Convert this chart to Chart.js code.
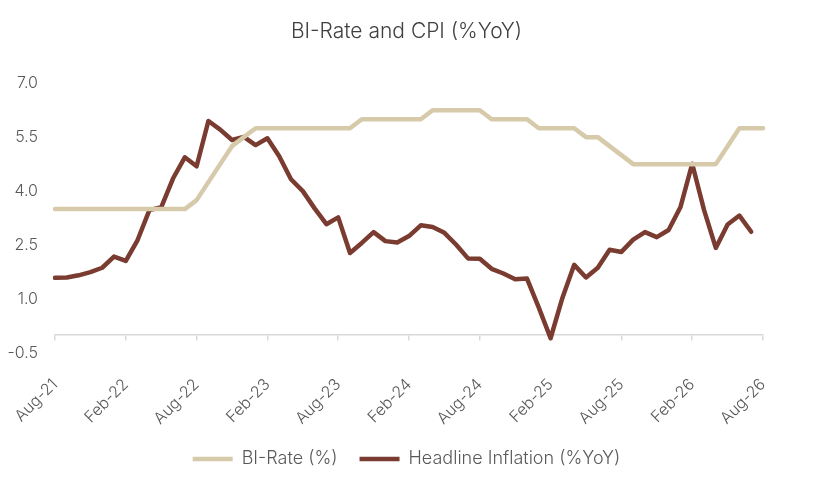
<!DOCTYPE html>
<html>
<head>
<meta charset="utf-8">
<script src="https://cdn.jsdelivr.net/npm/chart.js@4"></script>
<style>
    html, body { margin: 0; padding: 0; background: #ffffff; }
    #wrap { width: 813px; height: 487px; }
</style>
</head>
<body>
<div id="wrap"><canvas id="chart"></canvas></div>
<script>
// Monthly categories
const months = [
    'Aug-21', 'Sep-21', 'Oct-21', 'Nov-21', 'Dec-21',
    'Jan-22', 'Feb-22', 'Mar-22', 'Apr-22', 'May-22', 'Jun-22', 'Jul-22', 'Aug-22', 'Sep-22', 'Oct-22', 'Nov-22', 'Dec-22',
    'Jan-23', 'Feb-23', 'Mar-23', 'Apr-23', 'May-23', 'Jun-23', 'Jul-23', 'Aug-23', 'Sep-23', 'Oct-23', 'Nov-23', 'Dec-23',
    'Jan-24', 'Feb-24', 'Mar-24', 'Apr-24', 'May-24', 'Jun-24', 'Jul-24', 'Aug-24', 'Sep-24', 'Oct-24', 'Nov-24', 'Dec-24',
    'Jan-25', 'Feb-25', 'Mar-25', 'Apr-25', 'May-25', 'Jun-25', 'Jul-25', 'Aug-25', 'Sep-25', 'Oct-25', 'Nov-25', 'Dec-25',
    'Jan-26', 'Feb-26', 'Mar-26', 'Apr-26', 'May-26', 'Jun-26', 'Jul-26', 'Aug-26'
];

// BI-Rate (%)
const biRate = [
    3.50, 3.50, 3.50, 3.50, 3.50,
    3.50, 3.50, 3.50, 3.50, 3.50, 3.50, 3.50, 3.75, 4.25, 4.75, 5.25, 5.50,
    5.75, 5.75, 5.75, 5.75, 5.75, 5.75, 5.75, 5.75, 5.75, 6.00, 6.00, 6.00,
    6.00, 6.00, 6.00, 6.25, 6.25, 6.25, 6.25, 6.25, 6.00, 6.00, 6.00, 6.00,
    5.75, 5.75, 5.75, 5.75, 5.50, 5.50, 5.25, 5.00, 4.75, 4.75, 4.75, 4.75,
    4.75, 4.75, 4.75, 4.75, 5.25, 5.75, 5.75, 5.75
];

// Headline inflation (%YoY)
const inflation = [
    1.59, 1.60, 1.66, 1.75, 1.87,
    2.18, 2.06, 2.64, 3.47, 3.55, 4.35, 4.94, 4.69, 5.95, 5.71, 5.42, 5.51,
    5.28, 5.47, 4.97, 4.33, 4.00, 3.52, 3.08, 3.27, 2.28, 2.56, 2.86, 2.61,
    2.57, 2.75, 3.05, 3.00, 2.84, 2.51, 2.13, 2.12, 1.84, 1.71, 1.55, 1.57,
    0.76, -0.09, 1.03, 1.95, 1.60, 1.87, 2.37, 2.31, 2.65, 2.86, 2.72, 2.92,
    3.55, 4.76, 3.48, 2.42, 3.07, 3.32, 2.87
];

// Axis settings
const yMin = -0.5;
const yMax = 7.0;
const yStep = 1.5;
const labelEvery = 6;

const FONT = 'Inter, Lato, "Open Sans", sans-serif';
const TEXT_COLOR = '#595959';
const AXIS_COLOR = '#d9d9d9';

// show only every 6th month label (null hides the tick)
function everySixth(value, index) {
    return index % labelEvery === 0 ? months[index] : null;
}

const ctx = document.getElementById('chart').getContext('2d');
new Chart(ctx, {
    type: 'line',
    data: {
        labels: months,
        datasets: [{
            label: 'BI-Rate (%)',
            data: biRate,
            borderColor: '#d6caab',
            backgroundColor: '#d6caab',
            borderWidth: 4.5,
            borderCapStyle: 'round',
            borderJoinStyle: 'round',
            pointRadius: 0,
            tension: 0
        }, {
            label: 'Headline Inflation (%YoY)',
            data: inflation,
            borderColor: '#7a3b31',
            backgroundColor: '#7a3b31',
            borderWidth: 4.5,
            borderCapStyle: 'round',
            borderJoinStyle: 'round',
            pointRadius: 0,
            tension: 0
        }]
    },
    options: {
        responsive: true,
        maintainAspectRatio: false,
        animation: false,
        layout: {
            padding: { left: 0, right: 0, top: 0, bottom: 9 }
        },
        plugins: {
            title: {
                display: true,
                text: 'BI-Rate and CPI (%YoY)',
                color: '#404040',
                font: { family: FONT, size: 21, weight: '300' },
                padding: { top: 19, bottom: 39 }
            },
            legend: {
                display: true,
                position: 'bottom',
                labels: {
                    usePointStyle: true,
                    pointStyle: 'line',
                    pointStyleWidth: 40,
                    padding: 22,
                    color: TEXT_COLOR,
                    font: { family: FONT, size: 18, weight: '300' }
                }
            },
            tooltip: { enabled: false }
        },
        scales: {
            x: {
                type: 'category',
                position: 'bottom',
                grid: { display: false, drawTicks: false },
                border: { display: false },
                ticks: {
                    autoSkip: false,
                    minRotation: 45,
                    maxRotation: 45,
                    padding: 22,
                    color: TEXT_COLOR,
                    font: { family: FONT, size: 16, weight: '300' },
                    callback: everySixth
                },
                afterFit: (scale) => {
                    scale.height = 75;
                    // let the rotated first label hang into the y-axis margin
                    scale.paddingLeft = 0;
                    scale.paddingRight = 0;
                }
            },
            // axis line drawn where y = 0
            x2: {
                type: 'category',
                labels: months,
                position: { y: 0 },
                grid: {
                    display: true,
                    drawOnChartArea: false,
                    drawTicks: true,
                    tickLength: 5,
                    color: AXIS_COLOR,
                    lineWidth: 1.5
                },
                border: { display: true, color: AXIS_COLOR, width: 1.5 },
                ticks: {
                    autoSkip: false,
                    maxRotation: 0,
                    color: 'rgba(0,0,0,0)',
                    font: { size: 1 },
                    callback: everySixth
                }
            },
            y: {
                min: yMin,
                max: yMax,
                grid: { display: false, drawTicks: false },
                border: { display: false },
                ticks: {
                    stepSize: yStep,
                    padding: 17,
                    color: TEXT_COLOR,
                    font: { family: FONT, size: 16, weight: '300' },
                    callback: (v) => v.toFixed(1)
                },
                afterFit: (scale) => { scale.width = 55; }
            },
            // empty right margin so title and legend stay centred on the page
            yRight: {
                position: 'right',
                min: yMin,
                max: yMax,
                grid: { display: false, drawTicks: false },
                border: { display: false },
                ticks: { display: false },
                afterFit: (scale) => { scale.width = 50; }
            }
        }
    }
});
</script>
</body>
</html>
